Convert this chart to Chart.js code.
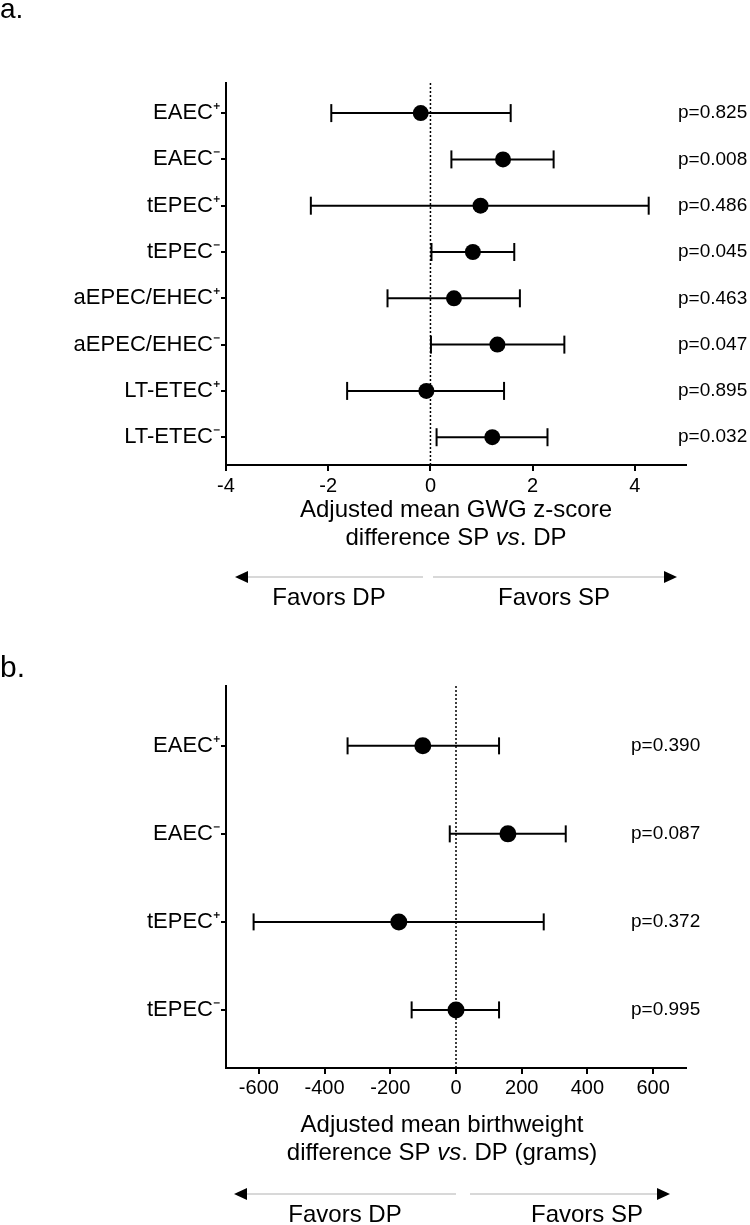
<!DOCTYPE html>
<html><head><meta charset="utf-8">
<script src="https://cdn.jsdelivr.net/npm/chart.js@4.4.1/dist/chart.umd.min.js"></script>
<style>
html,body{margin:0;padding:0;background:#fff;}
canvas{display:block;}
</style></head><body>
<canvas id="ca" width="750" height="612"></canvas>
<canvas id="cb" width="750" height="613"></canvas>
<script>
// ---- Panel a data ----
const catsA = ['EAEC⁺','EAEC⁻','tEPEC⁺','tEPEC⁻','aEPEC/EHEC⁺','aEPEC/EHEC⁻','LT-ETEC⁺','LT-ETEC⁻'];
const meanA = [-0.19, 1.42, 0.98, 0.83, 0.46, 1.31, -0.08, 1.21];
const lowA  = [-1.94, 0.41, -2.34, 0.02, -0.84, 0.01, -1.63, 0.12];
const highA = [1.57, 2.41, 4.27, 1.64, 1.75, 2.62, 1.44, 2.29];
const pA    = ['p=0.825','p=0.008','p=0.486','p=0.045','p=0.463','p=0.047','p=0.895','p=0.032'];
const ticksA = [-4, -2, 0, 2, 4];

// ---- Panel b data ----
const catsB = ['EAEC⁺','EAEC⁻','tEPEC⁺','tEPEC⁻'];
const meanB = [-101, 158, -174, 0];
const lowB  = [-330, -19, -616, -135];
const highB = [131, 334, 267, 131];
const pB    = ['p=0.390','p=0.087','p=0.372','p=0.995'];
const ticksB = [-600, -400, -200, 0, 200, 400, 600];

const FONT = "'Liberation Sans', Arial, Helvetica, sans-serif";

function drawTitle(ctx, lines, cx, y0, lh, size) {
  ctx.save();
  ctx.fillStyle = '#000';
  ctx.textBaseline = 'middle';
  ctx.textAlign = 'left';
  lines.forEach((parts, k) => {
    let total = 0;
    parts.forEach(p => {
      ctx.font = (p.i ? 'italic ' : '') + size + 'px ' + FONT;
      p.w = ctx.measureText(p.t).width;
      total += p.w;
    });
    let x = cx - total / 2;
    parts.forEach(p => {
      ctx.font = (p.i ? 'italic ' : '') + size + 'px ' + FONT;
      ctx.fillText(p.t, x, y0 + k * lh);
      x += p.w;
    });
  });
  ctx.restore();
}

function drawArrows(ctx, y, a) {
  ctx.save();
  ctx.strokeStyle = '#d8d8d8';
  ctx.lineWidth = 2;
  ctx.beginPath();
  ctx.moveTo(a[0] + 10, y); ctx.lineTo(a[1], y);
  ctx.moveTo(a[2], y); ctx.lineTo(a[3] - 10, y);
  ctx.stroke();
  ctx.fillStyle = '#000';
  ctx.beginPath();
  ctx.moveTo(a[0], y); ctx.lineTo(a[0] + 13, y - 6); ctx.lineTo(a[0] + 13, y + 6); ctx.closePath();
  ctx.fill();
  ctx.beginPath();
  ctx.moveTo(a[3], y); ctx.lineTo(a[3] - 13, y - 6); ctx.lineTo(a[3] - 13, y + 6); ctx.closePath();
  ctx.fill();
  ctx.restore();
}

function makePanel(cfg) {
  const bars = cfg.cats.map((c, i) => ({
    type: 'scatter',
    data: [{x: cfg.low[i], y: i}, {x: cfg.high[i], y: i}],
    showLine: true,
    borderColor: '#000',
    borderWidth: 2,
    pointStyle: 'line',
    rotation: 90,
    pointRadius: cfg.capR,
    pointBorderColor: '#000',
    pointBorderWidth: 2,
    order: 2
  }));
  const pts = {
    type: 'scatter',
    data: cfg.mean.map((m, i) => ({x: m, y: i})),
    pointRadius: cfg.dotR,
    pointBackgroundColor: '#000',
    pointBorderColor: '#000',
    pointBorderWidth: 0,
    showLine: false,
    order: 1
  };

  const extras = {
    id: 'extras' + cfg.id,
    beforeDatasetsDraw(chart) {
      const ctx = chart.ctx, xs = chart.scales.x, area = chart.chartArea;
      const x0 = xs.getPixelForValue(0);
      ctx.save();
      ctx.strokeStyle = '#000';
      ctx.lineWidth = 1.5;
      ctx.setLineDash([2, 2]);
      ctx.beginPath();
      ctx.moveTo(x0, area.top);
      ctx.lineTo(x0, area.bottom);
      ctx.stroke();
      ctx.restore();
    },
    afterDraw(chart) {
      const ctx = chart.ctx, ys = chart.scales.y;
      ctx.save();
      ctx.fillStyle = '#000';
      ctx.font = '19px ' + FONT;
      ctx.textAlign = 'left';
      ctx.textBaseline = 'middle';
      cfg.p.forEach((t, i) => ctx.fillText(t, cfg.pX, ys.getPixelForValue(i)));
      ctx.font = cfg.letterSize + 'px ' + FONT;
      ctx.textBaseline = 'alphabetic';
      ctx.fillText(cfg.letter, 0, cfg.letterY);
      ctx.restore();
      drawTitle(ctx, cfg.title, cfg.titleCx, cfg.titleY, 28, 24);
      drawArrows(ctx, cfg.arrowY, cfg.arrows);
      ctx.save();
      ctx.fillStyle = '#000';
      ctx.font = '24px ' + FONT;
      ctx.textAlign = 'center';
      ctx.textBaseline = 'middle';
      ctx.fillText('Favors DP', cfg.favX[0], cfg.favY);
      ctx.fillText('Favors SP', cfg.favX[1], cfg.favY);
      ctx.restore();
    }
  };

  return new Chart(document.getElementById(cfg.canvas), {
    type: 'scatter',
    data: {datasets: [...bars, pts]},
    plugins: [extras],
    options: {
      responsive: false,
      animation: false,
      layout: {padding: {top: cfg.top, right: 64, left: 0, bottom: 0}},
      plugins: {legend: {display: false}, tooltip: {enabled: false}},
      scales: {
        x: {
          type: 'linear',
          min: cfg.xMin, max: cfg.xMax,
          afterBuildTicks: s => { s.ticks = cfg.ticks.map(v => ({value: v})); },
          afterFit: s => { s.height = cfg.xAxisH; },
          border: {display: true, color: '#000', width: 2},
          grid: {display: true, drawOnChartArea: false, drawTicks: true, tickLength: 6, color: '#000', lineWidth: 2},
          ticks: {color: '#000', font: {family: FONT, size: 20}, padding: cfg.xPad, maxRotation: 0,
                  callback: v => String(v)}
        },
        y: {
          type: 'linear',
          reverse: true,
          min: cfg.yMin, max: cfg.yMax,
          afterBuildTicks: s => { s.ticks = cfg.cats.map((c, i) => ({value: i})); },
          afterFit: s => { s.width = 226; },
          border: {display: true, color: '#000', width: 2},
          grid: {display: true, drawOnChartArea: false, drawTicks: true, tickLength: 5, color: '#000', lineWidth: 2},
          ticks: {color: '#000', font: {family: FONT, size: 22}, padding: 1,
                  callback: v => cfg.cats[v]}
        }
      }
    }
  });
}

makePanel({
  id: 'a', canvas: 'ca', cats: catsA, mean: meanA, low: lowA, high: highA, p: pA, ticks: ticksA,
  xMin: -4, xMax: 5, yMin: -0.65, yMax: 7.6, top: 83, xAxisH: 612 - 465, xPad: 3,
  capR: 9, dotR: 8, pX: 678, letter: 'a.', letterSize: 28, letterY: 18,
  title: [[{t: 'Adjusted mean GWG z-score'}], [{t: 'difference SP '}, {t: 'vs', i: true}, {t: '. DP'}]],
  titleCx: 456, titleY: 510, arrowY: 577, arrows: [235, 423, 433, 677], favY: 598, favX: [329, 554]
});

makePanel({
  id: 'b', canvas: 'cb', cats: catsB, mean: meanB, low: lowB, high: highB, p: pB, ticks: ticksB,
  xMin: -700, xMax: 700, yMin: -0.68, yMax: 3.66, top: 74, xAxisH: 613 - 456, xPad: 2,
  capR: 8.5, dotR: 8.5, pX: 631, letter: 'b.', letterSize: 30, letterY: 65,
  title: [[{t: 'Adjusted mean birthweight'}], [{t: 'difference SP '}, {t: 'vs', i: true}, {t: '. DP (grams)'}]],
  titleCx: 442, titleY: 513, arrowY: 582, arrows: [234, 456, 470, 670], favY: 603, favX: [345, 587]
});
</script>
</body></html>
